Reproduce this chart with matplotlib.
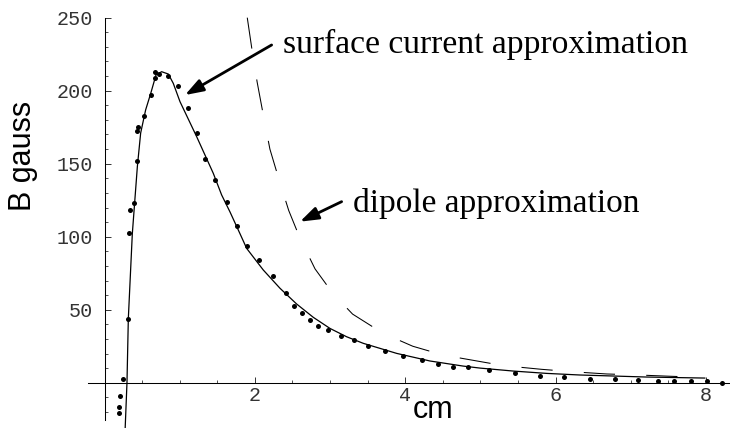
import matplotlib
matplotlib.use("Agg")
import matplotlib.pyplot as plt
from matplotlib.ticker import FixedLocator

# --- data ---
# measured field (dots)
meas_x = [0.189, 0.198, 0.211, 0.25, 0.313, 0.326, 0.335, 0.388, 0.432, 0.432,
          0.45, 0.52, 0.618, 0.672, 0.672, 0.725, 0.84, 0.973, 1.11, 1.226,
          1.34, 1.473, 1.633, 1.766, 1.895, 2.055, 2.24, 2.41, 2.524, 2.622,
          2.729, 2.843, 2.968, 3.145, 3.318, 3.504, 3.726, 3.965, 4.218, 4.439,
          4.63, 4.834, 5.117, 5.455, 5.79, 6.106, 6.452, 6.79, 7.1, 7.36,
          7.58, 7.80, 8.02, 8.21]
meas_b = [-20.5, -16.8, -8.9, 2.7, 43.8, 102.3, 118.0, 122.9, 152.0, 172.6,
          175.3, 182.5, 197.0, 208.7, 212.6, 211.6, 209.8, 203.0, 188.4, 170.8,
          153.2, 138.6, 124.0, 107.5, 93.8, 84.0, 73.3, 61.6, 52.7, 47.7,
          42.9, 39.0, 36.3, 32.2, 29.2, 25.3, 21.5, 18.5, 15.8, 12.8,
          11.0, 10.8, 8.7, 6.8, 4.8, 3.7, 2.7, 2.7, 1.8, 1.0,
          1.0, 1.0, 1.0, 0.0]

# surface current approximation (solid)
surf_x = [0.275, 0.299, 0.317, 0.37, 0.437, 0.481, 0.547, 0.614, 0.685, 0.76,
          0.849, 0.915, 1.004, 1.226, 1.447, 1.558, 1.669, 1.80, 1.891, 2.112,
          2.334, 2.556, 2.777, 2.999, 3.22, 3.441, 3.886, 4.328, 4.771, 5.0,
          5.436, 5.88, 6.32, 6.766, 7.21, 7.65, 7.985]
surf_b = [-31.0, 0.0, 44.0, 102.0, 148.0, 171.0, 186.8, 198.0, 210.8, 213.0,
          211.4, 205.0, 192.5, 168.5, 143.4, 128.6, 117.0, 102.3, 92.0, 77.2,
          64.7, 53.9, 44.8, 37.2, 31.5, 27.0, 20.1, 14.9, 11.4, 10.0,
          8.0, 6.4, 5.3, 4.6, 3.9, 3.5, 3.2]

# dipole approximation (dashed)
dip_x = [1.899, 1.962, 2.03, 2.11, 2.2, 2.31, 2.45, 2.6, 2.8, 3.04,
         3.3, 3.7, 4.1, 4.5, 5.13, 5.37, 5.81, 6.23, 6.68, 7.1,
         7.54, 7.96]
dip_b = [250.0, 228.0, 206.0, 184.0, 160.0, 141.0, 118.0, 99.0, 78.0, 61.0,
         47.0, 34.0, 25.0, 19.0, 13.3, 11.4, 9.2, 7.5, 6.0, 5.3,
         4.4, 3.7]

# ticks
x_major = [2, 4, 6, 8]
x_minor = [0.5, 1, 1.5, 2.5, 3, 3.5, 4.5, 5, 5.5, 6.5, 7, 7.5]
y_major = [50, 100, 150, 200, 250]
y_minor = [-20, -10, 10, 20, 30, 40, 60, 70, 80, 90, 110, 120, 130, 140,
           160, 170, 180, 190, 210, 220, 230, 240]

fig = plt.figure(figsize=(7.30, 4.28), dpi=100)
ax = fig.add_axes([0, 0, 1, 1])
ax.patch.set_alpha(0)

ax.plot(surf_x, surf_b, color="k", lw=0.9, clip_on=False)
ax.plot(dip_x, dip_b, color="k", lw=0.75, linestyle=(0, (30, 30)))
ax.plot(meas_x, meas_b, "o", color="k", ms=3.6, mew=0, clip_on=False)

ax.set_xlim(-1.39, 8.32)
ax.set_ylim(-31.0, 262.1)

# Mathematica-style axes crossing at the origin
for s in ("top", "right"):
    ax.spines[s].set_visible(False)
ax.spines["left"].set_position(("data", 0))
ax.spines["bottom"].set_position(("data", 0))
ax.spines["left"].set_bounds(-25.5, 250)
ax.spines["bottom"].set_bounds(-0.22, 8.32)
for s in ("left", "bottom"):
    ax.spines[s].set_linewidth(0.75)

ax.xaxis.set_major_locator(FixedLocator(x_major))
ax.xaxis.set_minor_locator(FixedLocator(x_minor))
ax.yaxis.set_major_locator(FixedLocator(y_major))
ax.yaxis.set_minor_locator(FixedLocator(y_minor))
ax.tick_params(which="major", direction="in", length=4.5, width=0.7, color="#333")
ax.tick_params(which="minor", direction="in", length=2.5, width=0.6, color="#333")
ax.tick_params(axis="y", pad=8)
ax.tick_params(axis="x", pad=2)
for lab in ax.get_xticklabels() + ax.get_yticklabels():
    lab.set_family("Liberation Mono")
    lab.set_fontsize(14.5)
    lab.set_color("#333")

ax.set_xlabel("cm", family="Liberation Sans", fontsize=22)
ax.xaxis.set_label_coords(433 / 730, 1 - 395 / 428)
ax.set_ylabel("B gauss", family="Liberation Sans", fontsize=22)
ax.yaxis.set_label_coords(38 / 730, 1 - 156 / 428)

arrow = dict(arrowstyle="-|>,head_length=1.1,head_width=0.38", lw=2, color="k",
             shrinkA=0, shrinkB=0, mutation_scale=10)
ax.annotate("", xy=(1.07, 197), xytext=(2.223, 231.3), arrowprops=arrow)
ax.text(2.374, 225.8, "surface current approximation", family="Liberation Serif",
        fontsize=24.2, va="baseline", ha="left")
ax.annotate("", xy=(2.60, 110.3), xytext=(3.154, 124), arrowprops=arrow)
ax.text(3.305, 117.1, "dipole approximation", family="Liberation Serif",
        fontsize=24, va="baseline", ha="left")

fig.savefig("out.png", dpi=100)
